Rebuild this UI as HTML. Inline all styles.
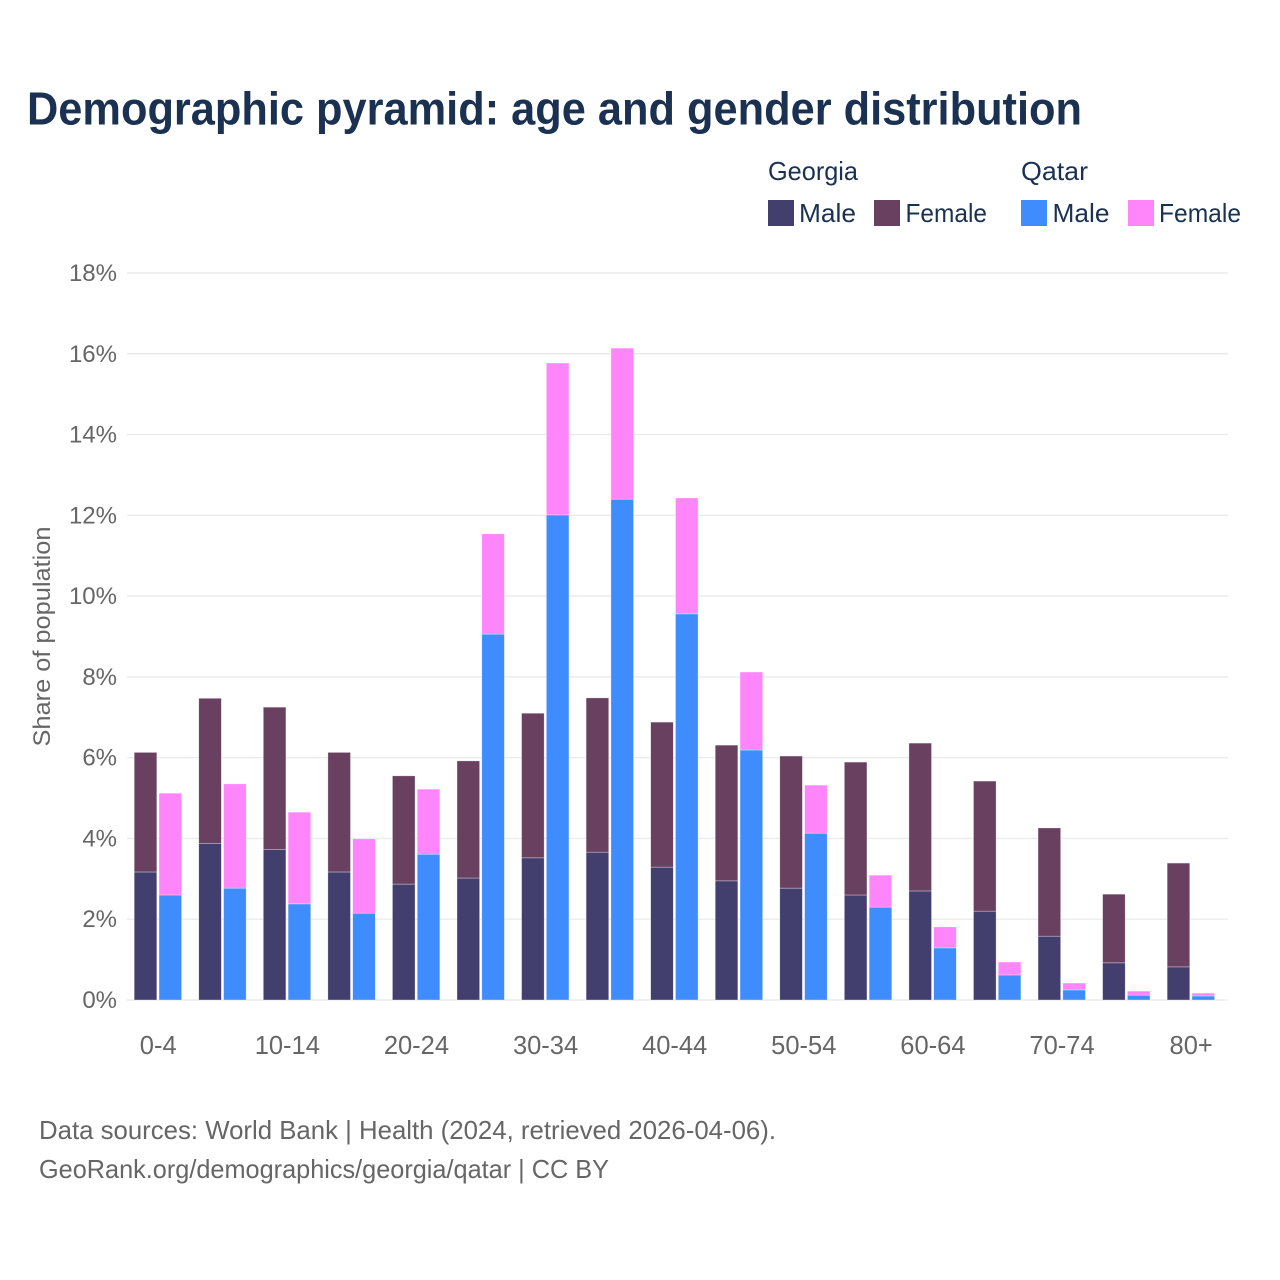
<!DOCTYPE html>
<html lang="en">
<head>
<meta charset="utf-8">
<title>Demographic pyramid: age and gender distribution</title>
<style>
html,body{margin:0;padding:0;background:#fff;width:1280px;height:1280px;overflow:hidden}
svg{display:block}
text{font-family:"Liberation Sans",sans-serif}
</style>
</head>
<body>
<svg id="chart" xmlns="http://www.w3.org/2000/svg" width="1280" height="1280" viewBox="0 0 1280 1280">
<rect width="1280" height="1280" fill="#ffffff"/>
<text x="27" y="124.5" font-size="46" font-weight="700" fill="#1a3152" textLength="1055" lengthAdjust="spacingAndGlyphs">Demographic pyramid: age and gender distribution</text>
<g font-size="26" fill="#1a3152">
<text x="768" y="180" textLength="90" lengthAdjust="spacingAndGlyphs">Georgia</text>
<text x="1021" y="180" textLength="67" lengthAdjust="spacingAndGlyphs">Qatar</text>
<rect x="768" y="200" width="26" height="26" fill="#423e6e"/>
<text x="799" y="222" textLength="57" lengthAdjust="spacingAndGlyphs">Male</text>
<rect x="874" y="200" width="26" height="26" fill="#69405f"/>
<text x="905.5" y="222" textLength="81.5" lengthAdjust="spacingAndGlyphs">Female</text>
<rect x="1021" y="200" width="26" height="26" fill="#3f8cff"/>
<text x="1052.5" y="222" textLength="57" lengthAdjust="spacingAndGlyphs">Male</text>
<rect x="1128" y="200" width="26" height="26" fill="#ff85fa"/>
<text x="1159" y="222" textLength="82" lengthAdjust="spacingAndGlyphs">Female</text>
</g>
<g id="grid"></g>
<g id="bars"></g>
<g id="yticks" font-size="24" fill="#666666" text-anchor="end"></g>
<g id="xticks" font-size="25.5" fill="#666666" text-anchor="middle"></g>
<text transform="translate(50,636.5) rotate(-90)" font-size="24" fill="#666666" text-anchor="middle" textLength="220" lengthAdjust="spacingAndGlyphs">Share of population</text>
<text x="39" y="1139" font-size="26" fill="#666666" textLength="737" lengthAdjust="spacingAndGlyphs">Data sources: World Bank | Health (2024, retrieved 2026-04-06).</text>
<text x="39" y="1178" font-size="26" fill="#666666" textLength="570" lengthAdjust="spacingAndGlyphs">GeoRank.org/demographics/georgia/qatar | CC BY</text>
</svg>
<script>
const ageGroups = ["0-4","5-9","10-14","15-19","20-24","25-29","30-34","35-39","40-44","45-49","50-54","55-59","60-64","65-69","70-74","75-79","80+"];
const georgiaMale = [3.17,3.88,3.73,3.17,2.87,3.02,3.52,3.66,3.29,2.95,2.77,2.60,2.70,2.20,1.58,0.92,0.82];
const georgiaFemale = [2.96,3.59,3.52,2.96,2.68,2.90,3.58,3.82,3.59,3.36,3.27,3.29,3.66,3.22,2.68,1.70,2.57];
const qatarMale = [2.60,2.77,2.38,2.15,3.61,9.06,12.01,12.40,9.56,6.19,4.13,2.30,1.29,0.62,0.25,0.12,0.10];
const qatarFemale = [2.52,2.58,2.27,1.84,1.61,2.48,3.76,3.74,2.87,1.93,1.19,0.79,0.52,0.32,0.17,0.10,0.07];
const yTickValues = [0,2,4,6,8,10,12,14,16,18];
const xTickLabels = ["0-4","","10-14","","20-24","","30-34","","40-44","","50-54","","60-64","","70-74","","80+"];

const NS = "http://www.w3.org/2000/svg";
const yScale = v => 1000 - v * 40.39;
const groupX = i => 134.2 + i * 64.56;
const barWidth = 22.6;
const qatarOffset = 24.8;

function shape(tag, parent, attrs) {
  const el = document.createElementNS(NS, tag);
  for (const k in attrs) el.setAttribute(k, attrs[k]);
  parent.appendChild(el);
  return el;
}

const gridG = document.getElementById("grid");
const yG = document.getElementById("yticks");
yTickValues.forEach(v => {
  const line = shape("line", gridG, {x1:127, x2:1228, y1:yScale(v), y2:yScale(v), stroke:"#ebebeb", "stroke-width":1.4});
  
  
  const t = shape("text", yG, {x:117, y:yScale(v) + 8});
  t.textContent = v + "%";
  
  
});

const barsG = document.getElementById("bars");
function segment(x, base, val, fill) {
  const yTop = yScale(base + val), yBot = yScale(base);
  const r = shape("rect", barsG, {x:x, y:yTop, width:barWidth, height:yBot - yTop, fill:fill, stroke:"#ffffff", "stroke-opacity":0.55, "stroke-width":0.6});
  return r;
}
ageGroups.forEach((age, i) => {
  const x0 = groupX(i), x1 = x0 + qatarOffset;
  const a = segment(x0, 0, georgiaMale[i], "#423e6e");
  
  
  const b = segment(x0, georgiaMale[i], georgiaFemale[i], "#69405f");
  
  
  const c = segment(x1, 0, qatarMale[i], "#3f8cff");
  
  
  const d = segment(x1, qatarMale[i], qatarFemale[i], "#ff85fa");
  
  
});

const xG = document.getElementById("xticks");
xTickLabels.forEach((label, i) => {
  if (!label) return;
  const t = shape("text", xG, {x:groupX(i) + 24, y:1054});
  t.textContent = label;
  
  
});
</script>
</body>
</html>
